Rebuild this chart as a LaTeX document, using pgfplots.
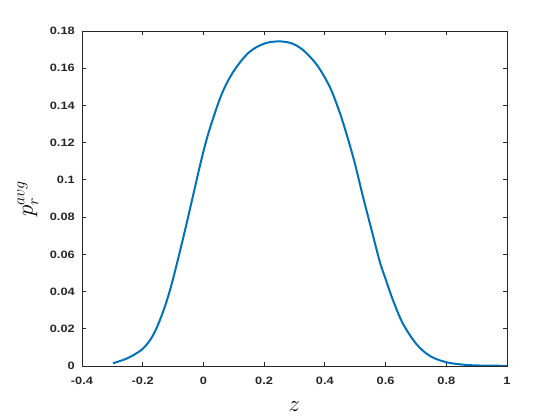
\documentclass[border=0pt]{standalone}
\usepackage{fontspec}
\setmainfont{Liberation Sans}
\usepackage{pgfplots}
\pgfplotsset{compat=1.18}
\definecolor{mblue}{RGB}{0,114,189}
\definecolor{axgray}{RGB}{38,38,38}
\begin{document}
\begin{tikzpicture}[x=1pt,y=1pt]
\path[use as bounding box] (0,0) rectangle (420,315);
\begin{axis}[
  at={(61.5pt,40.5pt)}, anchor=south west,
  scale only axis, width=318.75pt, height=251.25pt,
  xmin=-0.4, xmax=1, ymin=0, ymax=0.18,
  xtick={-0.4,-0.2,0,0.2,0.4,0.6,0.8,1},
  ytick={0,0.02,0.04,0.06,0.08,0.1,0.12,0.14,0.16,0.18},
  xticklabels={-0.4,-0.2,0,0.2,0.4,0.6,0.8,1},
  yticklabels={0,0.02,0.04,0.06,0.08,0.1,0.12,0.14,0.16,0.18},
  tick align=inside, major tick length=3pt,
  axis line style={axgray, line width=0.6pt},
  every tick/.style={axgray, line width=0.6pt},
  tick label style={font=\fontsize{8}{9}\selectfont\bfseries, text=axgray, xscale=1.2},
  xticklabel style={yshift=-4.5pt},
  yticklabel style={xshift=-1pt},
  xlabel={$z$}, ylabel={$p_r^{avg}$},
  xlabel style={font=\fontsize{16}{18}\selectfont, at={(axis description cs:0.5,0)}, anchor=base, yshift=-34.5pt},
  ylabel style={font=\fontsize{18}{20}\selectfont, at={(axis description cs:-0.127,0.5)}, anchor=center},
  scaled y ticks=false,
]
\addplot[mblue, line width=1.5pt, smooth, tension=0.55] coordinates {
(-0.298,0.0015) (-0.25,0.0042) (-0.2,0.0092) (-0.166,0.0165) (-0.139,0.0265)
(-0.117,0.037) (-0.095,0.050) (-0.062,0.072) (-0.035,0.091) (-0.005,0.112)
(0.02,0.127) (0.06,0.146) (0.1,0.1585) (0.15,0.1685) (0.2,0.1732)
(0.246,0.1744) (0.29,0.1734) (0.33,0.1695) (0.375,0.1615) (0.416,0.150)
(0.445,0.138) (0.467,0.127) (0.497,0.110) (0.524,0.092) (0.554,0.073)
(0.581,0.056) (0.598,0.0477) (0.625,0.0351) (0.658,0.0225) (0.702,0.0117)
(0.746,0.0054) (0.796,0.0022) (0.845,0.0009) (0.9,0.0003) (1.0,0.0001)
};
\end{axis}
\end{tikzpicture}
\end{document}
